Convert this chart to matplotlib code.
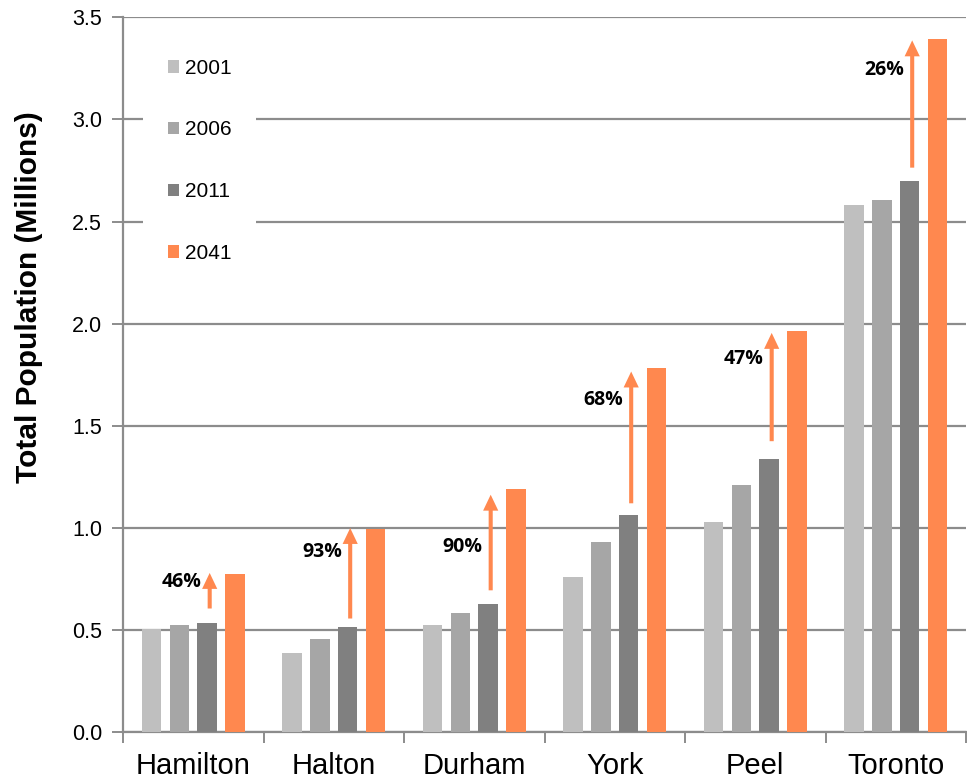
import numpy as np
import matplotlib
matplotlib.use("Agg")
import matplotlib.pyplot as plt
from matplotlib.patches import Patch

plt.rcParams["font.family"] = ["Liberation Sans", "DejaVu Sans"]

regions = ["Hamilton", "Halton", "Durham", "York", "Peel", "Toronto"]
years = ["2001", "2006", "2011", "2041"]

pop_2001 = [0.508, 0.389, 0.524, 0.759, 1.031, 2.581]
pop_2006 = [0.523, 0.457, 0.582, 0.930, 1.212, 2.605]
pop_2011 = [0.533, 0.516, 0.626, 1.065, 1.336, 2.699]
pop_2041 = [0.777, 0.997, 1.190, 1.785, 1.965, 3.395]

# growth 2011 -> 2041, with the span of each arrow and where its label sits
growth_pct = [46, 93, 90, 68, 47, 26]
arrow_lo = [0.606, 0.557, 0.695, 1.121, 1.425, 2.764]
arrow_hi = [0.780, 1.000, 1.163, 1.766, 1.955, 3.387]
label_y = [0.736, 0.883, 0.907, 1.627, 1.828, 3.242]

colors = ["#bfbfbf", "#a6a6a6", "#808080", "#ff884f"]
grid_col = "#8c8c8c"

fig = plt.figure(figsize=(9.67, 7.81), dpi=100)
ax = fig.add_axes([123 / 967, 1 - 732.3 / 781, 843 / 967, 715 / 781])

x = np.arange(len(regions))
pitch = 0.197
width = 0.139
series = [pop_2001, pop_2006, pop_2011, pop_2041]
for i, vals in enumerate(series):
    ax.bar(x + (i - 1.5) * pitch, vals, width, color=colors[i], zorder=3)

# growth arrows next to the 2011 bars
arrow_x = x + 0.117
for ax_x, lo, hi, pct, ly in zip(arrow_x, arrow_lo, arrow_hi, growth_pct, label_y):
    ax.arrow(ax_x, lo, 0, hi - lo, width=0.029, head_width=0.108,
             head_length=0.078, length_includes_head=True,
             color=colors[3], lw=0, zorder=4)
    ax.annotate(f"{pct}%", xy=(ax_x, ly), xytext=(-6, 0),
                textcoords="offset points", ha="right", va="center",
                fontsize=14, fontweight="bold", family=["Open Sans", "DejaVu Sans"],
                color="black", zorder=5)

ax.set_xlim(-0.5, len(regions) - 0.5)
ax.set_ylim(0, 3.5)
ax.set_yticks(np.arange(0, 3.51, 0.5))
ax.set_yticklabels([f"{v:.1f}" for v in np.arange(0, 3.51, 0.5)])
ax.yaxis.grid(True, color=grid_col, lw=1.6, zorder=0)
ax.set_axisbelow(True)

ax.set_xticks(x)
ax.set_xticklabels(regions)
ax.set_xticks(np.arange(-0.5, len(regions)), minor=True)
ax.tick_params(axis="x", which="major", length=0, labelsize=21, pad=14)
ax.tick_params(axis="x", which="minor", length=8, width=1.4, color=grid_col)
ax.tick_params(axis="y", length=8, width=1.4, color=grid_col, labelsize=15.5, pad=7)

for side in ["top", "right"]:
    ax.spines[side].set_visible(False)
for side in ["left", "bottom"]:
    ax.spines[side].set_color(grid_col)
    ax.spines[side].set_linewidth(1.6)

fig.text(29 / 967, 1 - 297 / 781, "Total Population (Millions)", rotation=90,
         ha="center", va="center", fontsize=21.5, fontweight="bold")

handles = [Patch(facecolor=c, edgecolor="none") for c in colors]
leg = ax.legend(handles, years, loc="upper left", bbox_to_anchor=(0.0237, 0.977),
                borderaxespad=0, fontsize=15, frameon=True, fancybox=False,
                edgecolor="none", facecolor="white", framealpha=1,
                handlelength=0.55, handleheight=0.55, handletextpad=0.25,
                labelspacing=2.05, borderpad=1.2)
leg.set_zorder(6)

fig.savefig("out.png", dpi=100)
